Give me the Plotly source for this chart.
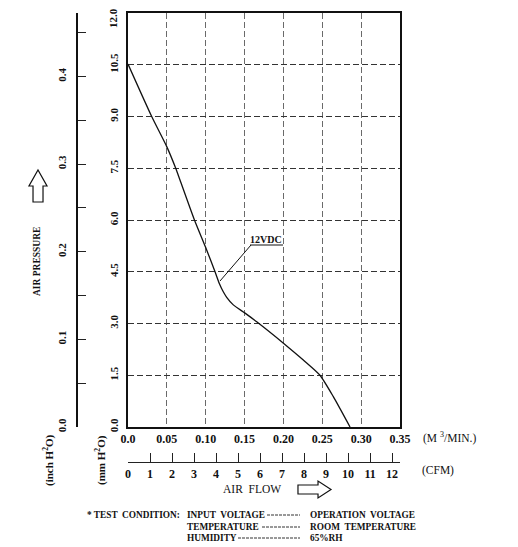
import plotly.graph_objects as go

W, H = 518, 547
OFF = 8  # page body margin pushes the figure 8px right/down

# fan curve, 12VDC (air flow m3/min vs static pressure mmH2O)
FLOW = [0.0, 0.0305, 0.05, 0.0614, 0.0669, 0.0855, 0.100, 0.112, 0.1175,
        0.1226, 0.1270, 0.1355, 0.1506, 0.1656, 0.200, 0.2256, 0.247,
        0.2642, 0.2857]
PRESSURE = [10.52, 9.0, 8.12, 7.5, 7.16, 6.0, 5.2, 4.5, 4.16,
            3.92, 3.76, 3.54, 3.30, 3.05, 2.43, 1.94, 1.5,
            0.88, 0.0]

FLOW_TICKS = [0.0, 0.05, 0.10, 0.15, 0.20, 0.25, 0.30, 0.35]
FLOW_LABELS = ["0.0", "0.05", "0.10", "0.15", "0.20", "0.25", "0.30", "0.35"]
MM_TICKS = [0.0, 1.5, 3.0, 4.5, 6.0, 7.5, 9.0, 10.5, 12.0]
MM_LABELS = ["0.0", "1.5", "3.0", "4.5", "6.0", "7.5", "9.0", "10.5", "12.0"]
INCH_TICKS = [0.0, 0.1, 0.2, 0.3, 0.4]
INCH_LABELS = ["0.0", "0.1", "0.2", "0.3", "0.4"]
INCH_MINOR = [0.05, 0.15, 0.25, 0.35, 0.45]
CFM_TICKS = list(range(13))

FLOW_MAX = 0.35
MM_MAX = 12.0
CFM_PER_M3MIN = 35.3147
MM_PER_INCH = 25.4

SERIF = "Liberation Serif"


def fx(p):
    return (p - OFF) / W


def fy(p):
    return 1 - (p - OFF) / H


def path(points):
    s = "M " + " L ".join(f"{fx(a):.4f},{fy(b):.4f}" for a, b in points)
    return s + " Z"


fig = go.Figure()
fig.add_trace(go.Scatter(
    x=FLOW, y=PRESSURE, mode="lines",
    line=dict(color="#111", width=1.3, shape="spline", smoothing=0.6),
    showlegend=False, hoverinfo="skip",
))
# dummy trace so the secondary scales get drawn
fig.add_trace(go.Scatter(
    x=[0], y=[0], xaxis="x2", yaxis="y2", mode="markers",
    marker=dict(opacity=0), showlegend=False, hoverinfo="skip",
))

tick_font = dict(family=SERIF, size=12, color="#111", weight="bold")
ytick_font = dict(family=SERIF, size=11, color="#111", weight="bold")

fig.update_layout(
    width=W, height=H,
    margin=dict(l=0, r=0, t=0, b=0, autoexpand=False),
    paper_bgcolor="white", plot_bgcolor="white",
    xaxis=dict(
        domain=[fx(128), fx(400)], range=[0, FLOW_MAX], automargin=False,
        tickvals=FLOW_TICKS, ticktext=FLOW_LABELS, tickfont=tick_font,
        showgrid=True, gridcolor="#6a6a6a", gridwidth=1.4, griddash="6px,3px",
        showline=True, linecolor="#111", linewidth=2, mirror=True,
        ticks="", zeroline=False,
    ),
    yaxis=dict(
        domain=[fy(427), fy(13)], range=[0, MM_MAX], automargin=False,
        # top label is drawn as an annotation, nudged to stay on the page
        tickvals=MM_TICKS[:-1], ticktext=MM_LABELS[:-1], tickangle=-90,
        tickfont=ytick_font,
        showgrid=True, gridcolor="#333", gridwidth=1.4, griddash="6px,3px",
        showline=True, linecolor="#111", linewidth=1.5, mirror=True,
        ticks="", zeroline=False, ticklabelstandoff=4,
    ),
    xaxis2=dict(
        overlaying="x", anchor="free", position=fy(462), side="bottom",
        range=[0, FLOW_MAX * CFM_PER_M3MIN], tickvals=CFM_TICKS,
        automargin=False,
        tickfont=tick_font, ticks="inside", ticklen=9, tickcolor="#222",
        showline=True, linecolor="#222", linewidth=1.3,
        showgrid=False, zeroline=False,
    ),
    yaxis2=dict(
        overlaying="y", anchor="free", position=fx(77), side="left",
        range=[0, MM_MAX / MM_PER_INCH], tickvals=INCH_TICKS,
        ticktext=INCH_LABELS, tickangle=-90, automargin=False,
        tickfont=ytick_font,
        ticks="inside", ticklen=8, tickcolor="#222",
        minor=dict(tickvals=INCH_MINOR, ticks="inside", ticklen=8,
                   tickcolor="#222", showgrid=False),
        showline=True, linecolor="#111", linewidth=2,
        showgrid=False, zeroline=False, ticklabelstandoff=6,
    ),
)

ann = []


def label(text, x, y, size=10, bold=True, angle=0, xanchor="center"):
    ann.append(dict(
        text=text, x=fx(x), y=fy(y), xref="paper", yref="paper",
        showarrow=False, textangle=angle, xanchor=xanchor, yanchor="middle",
        font=dict(family=SERIF, size=size, color="#111",
                  weight="bold" if bold else "normal"),
    ))


label(MM_LABELS[-1], 113, 18, size=11, angle=-90)
label("AIR PRESSURE", 37, 262, size=9.5, angle=-90)
label("(inch H<sup>2</sup>O)", 48, 460, size=11, angle=-90)
label("(mm H<sup>2</sup>O)", 100, 460, size=11, angle=-90)
label("(M <sup>3</sup>/MIN.)", 449, 437, size=11.5, bold=False)
label("(CFM)", 438, 470, size=11.5, bold=False)
label("AIR  FLOW", 252, 489, size=11.5, bold=False)
label("12VDC", 266, 239, size=10)

label("* TEST  CONDITION:", 182, 515, size=9.3, xanchor="right")
label("INPUT  VOLTAGE", 185, 515, size=9.3, xanchor="left")
label("TEMPERATURE", 185, 527, size=9.3, xanchor="left")
label("HUMIDITY", 185, 538, size=9.3, xanchor="left")
label("OPERATION  VOLTAGE", 308, 515, size=9.3, xanchor="left")
label("ROOM  TEMPERATURE", 308, 527, size=9.3, xanchor="left")
label("65%RH", 308, 538, size=9.3, xanchor="left")

fig.update_layout(annotations=ann)

shapes = []
# outline arrows
shapes.append(dict(type="path", xref="paper", yref="paper",
                   path=path([(33, 202), (43, 202), (43, 186), (47, 186),
                              (38, 170), (29, 186), (33, 186)]),
                   line=dict(color="#111", width=1.2), fillcolor="white"))
shapes.append(dict(type="path", xref="paper", yref="paper",
                   path=path([(298, 485), (318, 485), (318, 481), (331, 489.5),
                              (318, 498), (318, 494), (298, 494)]),
                   line=dict(color="#111", width=1.2), fillcolor="white"))
# 12VDC leader and underline
shapes.append(dict(type="line", xref="paper", yref="paper",
                   x0=fx(250), y0=fy(245), x1=fx(283), y1=fy(245),
                   line=dict(color="#111", width=1)))
shapes.append(dict(type="line", xref="paper", yref="paper",
                   x0=fx(251), y0=fy(245), x1=fx(220), y1=fy(281),
                   line=dict(color="#111", width=1)))
# footnote dashes
for x0, y0 in [(267, 515), (262, 527), (238, 538)]:
    shapes.append(dict(type="line", xref="paper", yref="paper",
                       x0=fx(x0), y0=fy(y0), x1=fx(300), y1=fy(y0),
                       line=dict(color="#333", width=1, dash="3px,1px")))

fig.update_layout(shapes=shapes)

fig.write_html("out.html")
